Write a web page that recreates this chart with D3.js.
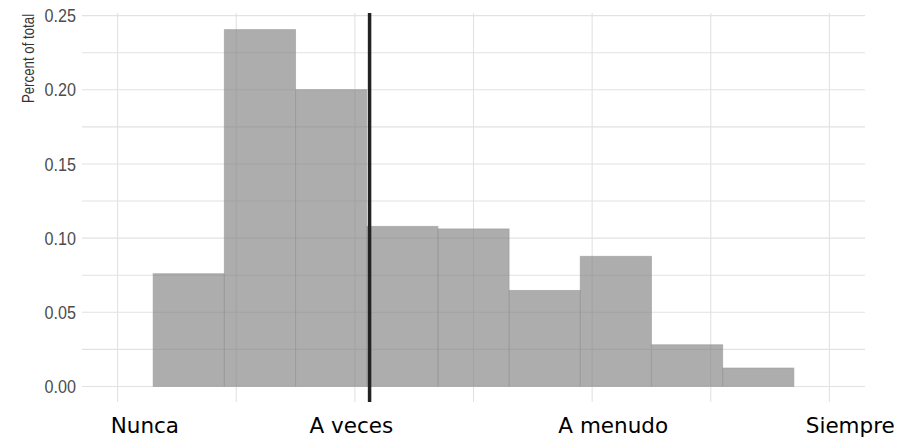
<!DOCTYPE html>
<html>
<head>
<meta charset="utf-8">
<script src="https://cdn.jsdelivr.net/npm/d3@7"></script>
<style>
  html, body { margin: 0; padding: 0; background: #fff; }
  svg { display: block; }
</style>
</head>
<body>
<svg id="chart" width="900" height="439"></svg>
<script>
// ---- data ----
const binEdges = [1.15, 1.45, 1.75, 2.05, 2.35, 2.65, 2.95, 3.25, 3.55, 3.85];
const binValues = [0.076, 0.2406, 0.2001, 0.1079, 0.1062, 0.0647, 0.0877, 0.0281, 0.0124];
const meanValue = 2.062;
const yTicks = [0.00, 0.05, 0.10, 0.15, 0.20, 0.25];
const yGridValues = [0, 0.025, 0.05, 0.075, 0.10, 0.125, 0.15, 0.175, 0.20, 0.225, 0.25];
const xGridValues = [1, 1.5, 2, 2.5, 3, 3.5, 4];
const categoryLabels = ["Nunca", "A veces", "A menudo", "Siempre"];
const categoryLabelPos = [1.115, 1.985, 3.089, 4.088];
const yTitle = "Percent of total";

// ---- layout ----
const svg = d3.select("#chart");
const panel = { left: 82, right: 865, top: 13, bottom: 402 };

const x = d3.scaleLinear().domain([0.85, 4.15]).range([panel.left, panel.right]);
const y = d3.scaleLinear().domain([-0.0105, 0.2518]).range([panel.bottom, panel.top]);

const sansFont = "'Liberation Sans', Arial, sans-serif";

// compress text horizontally to mimic a narrow face
function narrowText(sel, factor) {
  sel.each(function () {
    const len = this.getComputedTextLength();
    d3.select(this)
      .attr("textLength", (len * factor).toFixed(2))
      .attr("lengthAdjust", "spacingAndGlyphs");
  });
}

// gridlines
const grid = svg.append("g");
grid.selectAll("line.h").data(yGridValues).join("line")
  .attr("x1", panel.left).attr("x2", panel.right)
  .attr("y1", d => y(d)).attr("y2", d => y(d))
  .attr("stroke", "#e2e2e2").attr("stroke-width", 1.1);
grid.selectAll("line.v").data(xGridValues).join("line")
  .attr("x1", d => x(d)).attr("x2", d => x(d))
  .attr("y1", panel.top).attr("y2", panel.bottom)
  .attr("stroke", "#e2e2e2").attr("stroke-width", 1.1);

// bars
const bins = binValues.map((v, i) => ({ x0: binEdges[i], x1: binEdges[i + 1], v }));
svg.append("g").selectAll("rect").data(bins).join("rect")
  .attr("x", d => x(d.x0))
  .attr("width", d => x(d.x1) - x(d.x0))
  .attr("y", d => y(d.v))
  .attr("height", d => y(0) - y(d.v))
  .attr("fill", "#7f7f7f")
  .attr("fill-opacity", 0.64)
  .attr("stroke", "#9a9a9a")
  .attr("stroke-opacity", 0.6)
  .attr("stroke-width", 1);

// mean line
svg.append("line")
  .attr("x1", x(meanValue)).attr("x2", x(meanValue))
  .attr("y1", panel.top).attr("y2", panel.bottom)
  .attr("stroke", "#222").attr("stroke-width", 3.5);

// y axis (labels only)
const yAxis = d3.axisLeft(y).tickValues(yTicks).tickFormat(d3.format(".2f")).tickSize(0).tickPadding(6);
const gy = svg.append("g").attr("transform", `translate(${panel.left},0)`).call(yAxis);
gy.select(".domain").remove();
gy.selectAll("text")
  .attr("fill", "#4d4d4d")
  .style("font-family", sansFont)
  .style("font-size", "19px")
  .call(narrowText, 0.85);

// y title (narrowed via a geometric scale along its reading direction)
svg.append("text")
  .attr("transform", `translate(34,58.5) rotate(-90) scale(0.83,1)`)
  .attr("text-anchor", "middle")
  .attr("fill", "#333")
  .style("font-family", sansFont)
  .style("font-size", "16px")
  .text(yTitle);

// category labels
svg.append("g").selectAll("text").data(categoryLabels).join("text")
  .attr("x", (d, i) => x(categoryLabelPos[i]))
  .attr("y", 433)
  .attr("text-anchor", "middle")
  .attr("fill", "#000")
  .style("font-family", "'DejaVu Sans', Verdana, sans-serif")
  .style("font-size", "21.5px")
  .text(d => d);
</script>
</body>
</html>
